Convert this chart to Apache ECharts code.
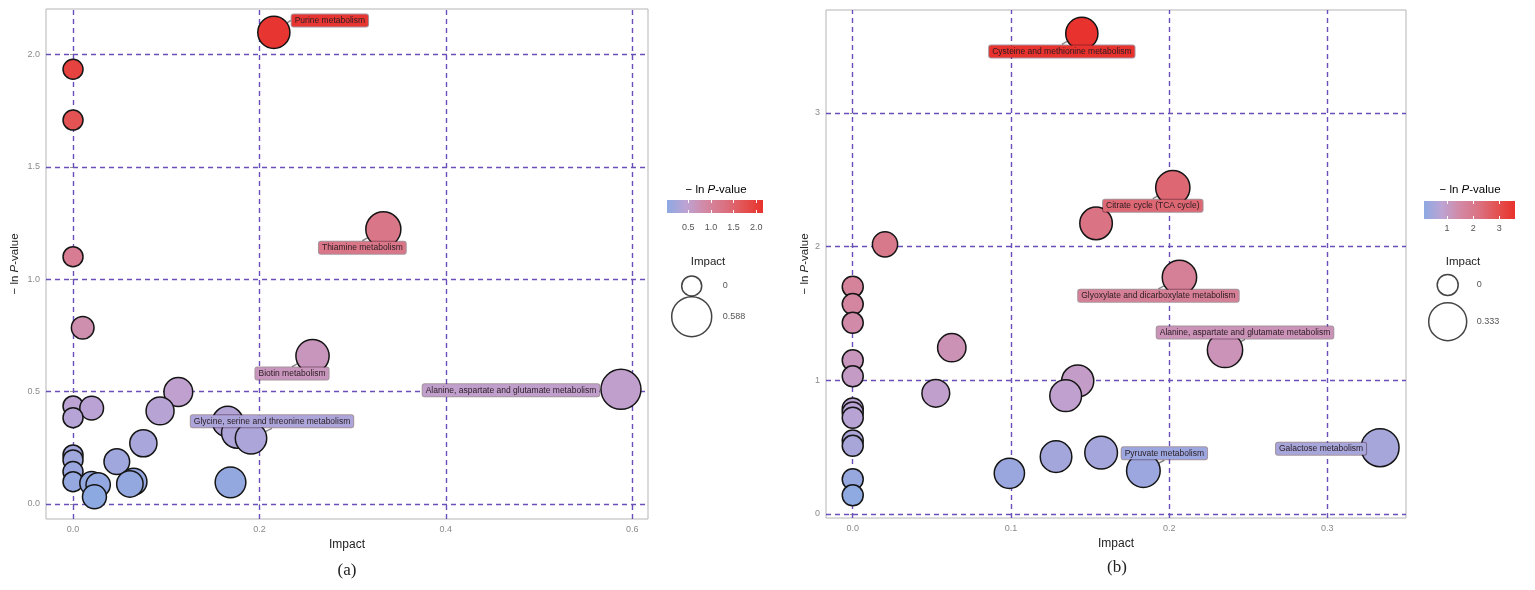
<!DOCTYPE html>
<html><head><meta charset="utf-8">
<script src="https://cdn.jsdelivr.net/npm/echarts@6/dist/echarts.min.js"></script>
<style>html,body{margin:0;padding:0;background:#fff}#c{width:1535px;height:590px}</style>
</head><body><div id="c"></div>
<script>
// ---------- Panel (a) data ----------
const leftImpact = [0.2155, 0, 0, 0.333, 0, 0.0104, 0.257, 0.588, 0.113, 0, 0.020, 0.0934, 0, 0.166, 0.176, 0.191, 0.0755, 0, 0, 0.047, 0, 0, 0.020, 0.027, 0.023, 0.065, 0.061, 0.169];
const leftLogP   = [2.098, 1.934, 1.708, 1.222, 1.100, 0.784, 0.658, 0.510, 0.498, 0.436, 0.426, 0.414, 0.384, 0.366, 0.317, 0.292, 0.270, 0.218, 0.196, 0.188, 0.144, 0.099, 0.092, 0.085, 0.032, 0.099, 0.089, 0.096];
const leftNames  = ['Purine metabolism', '', '', 'Thiamine metabolism', '', '', 'Biotin metabolism', 'Alanine, aspartate and glutamate metabolism', '', '', '', '', '', '', '', 'Glycine, serine and threonine metabolism', '', '', '', '', '', '', '', '', '', '', '', ''];
const leftXTicks = [0, 0.2, 0.4, 0.6];
const leftYTicks = [0, 0.5, 1.0, 1.5, 2.0];
const leftColorTicks = [0.5, 1.0, 1.5, 2.0];
const leftSizeLegend = [0, 0.588];

// ---------- Panel (b) data ----------
const rightImpact = [0.1448, 0.2023, 0.1538, 0.0204, 0.2065, 0, 0, 0, 0.0626, 0.2353, 0, 0, 0.1422, 0.0525, 0.1346, 0, 0, 0, 0, 0, 0.3333, 0.157, 0.1285, 0.1837, 0.099, 0, 0];
const rightLogP   = [3.595, 2.441, 2.174, 2.017, 1.770, 1.700, 1.570, 1.430, 1.244, 1.227, 1.150, 1.030, 0.995, 0.903, 0.885, 0.790, 0.760, 0.720, 0.550, 0.510, 0.496, 0.459, 0.429, 0.324, 0.304, 0.260, 0.140];
const rightNames  = ['Cysteine and methionine metabolism', 'Citrate cycle (TCA cycle)', '', '', 'Glyoxylate and dicarboxylate metabolism', '', '', '', '', 'Alanine, aspartate and glutamate metabolism', '', '', '', '', '', '', '', '', '', '', 'Galactose metabolism', '', '', 'Pyruvate metabolism', '', '', ''];
const rightXTicks = [0, 0.1, 0.2, 0.3];
const rightYTicks = [0, 1, 2, 3];
const rightColorTicks = [1, 2, 3];
const rightSizeLegend = [0, 0.333];

// ---------- styling ----------
const FONT = 'Liberation Sans, Arial, sans-serif';
const colorStops = ['#8DA9E2', '#BDA3D3', '#D388A4', '#DA7282', '#E35252', '#E8322D'];
const gridColor = '#6A4FB8';
const leftLabelOffsets = {
  'Purine metabolism': [56, -12],
  'Thiamine metabolism': [-21, 18.5],
  'Biotin metabolism': [-20.5, 17.5],
  'Glycine, serine and threonine metabolism': [21, -17],
  'Alanine, aspartate and glutamate metabolism': [-110, 1]
};
const rightLabelOffsets = {
  'Cysteine and methionine metabolism': [-20, 18],
  'Citrate cycle (TCA cycle)': [-20, 18],
  'Glyoxylate and dicarboxylate metabolism': [-21, 18.5],
  'Alanine, aspartate and glutamate metabolism': [20, -17.5],
  'Pyruvate metabolism': [21, -17.4],
  'Galactose metabolism': [-59, 1]
};

function sizeFn(maxI, dmin, dmax) {
  return function (val) { return dmin + (dmax - dmin) * Math.sqrt(Math.max(0, val[0]) / maxI); };
}
function buildData(xs, ys, names) {
  return xs.map((x, i) => ({ value: [x, ys[i]], name: names[i] }));
}
function gradient() {
  return new echarts.graphic.LinearGradient(0, 0, 1, 0,
    colorStops.map((c, i) => ({ offset: i / (colorStops.length - 1), color: c })));
}

const chart = echarts.init(document.getElementById('c'), null, { renderer: 'canvas' });

const tickLabel = { color: '#8a8a8a', fontSize: 9, fontFamily: FONT };
const yName = '{a|\u2212 ln }{b|P}{a|-value}';
const yNameStyle = { rich: { a: { fontSize: 11.5, color: '#222', fontFamily: FONT }, b: { fontSize: 11.5, color: '#222', fontStyle: 'italic', fontFamily: FONT } } };

function mainX(gi, min, max, ticks, gap) {
  return {
    gridIndex: gi, type: 'value', min: min, max: max,
    splitLine: { show: false }, axisLine: { show: false },
    axisTick: { show: true, customValues: ticks, length: 3, lineStyle: { color: '#9a9a9a' } },
    axisLabel: { customValues: ticks, formatter: v => (+v).toFixed(1), margin: 6, ...tickLabel },
    name: 'Impact', nameLocation: 'middle', nameGap: gap,
    nameTextStyle: { fontSize: 12, color: '#222', fontFamily: FONT }
  };
}
function mainY(gi, min, max, ticks, fmt, gap) {
  return {
    gridIndex: gi, type: 'value', min: min, max: max,
    splitLine: { show: false }, axisLine: { show: false },
    axisTick: { show: true, customValues: ticks, length: 3, lineStyle: { color: '#9a9a9a' } },
    axisLabel: { customValues: ticks, formatter: fmt, margin: 6, ...tickLabel },
    name: yName, nameLocation: 'middle', nameRotate: 90, nameGap: gap, nameTextStyle: yNameStyle
  };
}
function gridLines(xi, yi, xt, yt) {
  return {
    type: 'scatter', xAxisIndex: xi, yAxisIndex: yi, data: [], z: 1, silent: true,
    markLine: {
      z: 1, silent: true, symbol: ['none', 'none'], label: { show: false },
      lineStyle: { color: gridColor, type: [5, 4], width: 1.4 },
      data: xt.map(v => ({ xAxis: v })).concat(yt.map(v => ({ yAxis: v })))
    }
  };
}
// unlabelled points
function dataSeries(xi, yi, data, maxI, dmin, dmax) {
  return {
    type: 'scatter', xAxisIndex: xi, yAxisIndex: yi, z: 3,
    data: data.filter(d => !d.name),
    symbolSize: sizeFn(maxI, dmin, dmax),
    itemStyle: { borderColor: '#151515', borderWidth: 1.5, opacity: 1 },
    label: { show: false }
  };
}
// labelled points, drawn above with their repelled labels
function labelSeries(xi, yi, data, maxI, dmin, dmax, offsets) {
  const named = data.filter(d => d.name);
  return {
    type: 'scatter', xAxisIndex: xi, yAxisIndex: yi, z: 4,
    data: named,
    symbolSize: sizeFn(maxI, dmin, dmax),
    itemStyle: { borderColor: '#151515', borderWidth: 1.5, opacity: 1 },
    label: {
      show: true, position: 'inside', formatter: p => p.name,
      fontSize: 8.5, fontFamily: FONT, color: '#2a1c22',
      backgroundColor: 'auto', borderColor: 'rgba(60,20,40,0.45)', borderWidth: 1,
      borderRadius: 2, padding: [2, 3, 1, 3]
    },
    labelLine: { show: true, lineStyle: { color: '#8a8a8a', width: 1.5 } },
    labelLayout: function (p) {
      const o = offsets[named[p.dataIndex].name];
      if (!o) return {};
      return { dx: o[0], dy: o[1] };
    }
  };
}
function colorbarAxes(gi, min, max, ticks, fmt, margin) {
  return [{
    gridIndex: gi, type: 'value', min: min, max: max, position: 'bottom',
    splitLine: { show: false }, axisLine: { show: false },
    axisTick: { show: true, inside: true, customValues: ticks, length: 3, lineStyle: { color: '#fff', width: 1 } },
    axisLabel: { customValues: ticks, formatter: fmt, margin: margin, color: '#555', fontSize: 9, fontFamily: FONT }
  }, {
    gridIndex: gi, type: 'value', min: min, max: max, position: 'top',
    splitLine: { show: false }, axisLine: { show: false },
    axisTick: { show: true, inside: true, customValues: ticks, length: 3, lineStyle: { color: '#fff', width: 1 } },
    axisLabel: { show: false }
  }];
}

const grids = [
  { left: 46, top: 9, width: 602, height: 510, show: true, borderColor: '#b5b5b5', borderWidth: 1, backgroundColor: '#fff' },   // 0 main a
  { left: 826, top: 10, width: 580, height: 508, show: true, borderColor: '#b5b5b5', borderWidth: 1, backgroundColor: '#fff' }, // 1 main b
  { left: 667, top: 200, width: 96, height: 13, show: true, borderWidth: 0, backgroundColor: gradient() },   // 2 colorbar a
  { left: 1424, top: 201, width: 91, height: 18, show: true, borderWidth: 0, backgroundColor: gradient() },  // 3 colorbar b
  { left: 671.7, top: 270.6, width: 40, height: 61.4 },   // 4 size legend a
  { left: 1427.7, top: 266.6, width: 40, height: 73.4 }   // 5 size legend b
];

const cbA = colorbarAxes(2, 0.03, 2.15, leftColorTicks, v => (+v).toFixed(1), 10);
const cbB = colorbarAxes(3, 0.115, 3.6, rightColorTicks, v => String(Math.round(v)), 5);

const xAxes = [
  mainX(0, -0.029, 0.617, leftXTicks, 15),           // 0
  mainX(1, -0.0169, 0.3497, rightXTicks, 15),        // 1
  cbA[0], cbA[1],                                     // 2,3
  cbB[0], cbB[1],                                     // 4,5
  { gridIndex: 4, type: 'value', min: -1, max: 1, show: false },  // 6
  { gridIndex: 5, type: 'value', min: -1, max: 1, show: false }   // 7
];
const yAxes = [
  mainY(0, -0.067, 2.202, leftYTicks, v => (+v).toFixed(1), 25),  // 0
  mainY(1, -0.030, 3.770, rightYTicks, v => String(Math.round(v)), 15), // 1
  { gridIndex: 2, type: 'value', min: 0, max: 1, show: false },   // 2
  { gridIndex: 3, type: 'value', min: 0, max: 1, show: false },   // 3
  { gridIndex: 4, type: 'category', inverse: true, position: 'right', data: leftSizeLegend.map(String),
    axisLine: { show: false }, axisTick: { show: false },
    axisLabel: { margin: 11, color: '#555', fontSize: 9, fontFamily: FONT } },      // 4
  { gridIndex: 5, type: 'category', inverse: true, position: 'right', data: rightSizeLegend.map(String),
    axisLine: { show: false }, axisTick: { show: false },
    axisLabel: { margin: 9, color: '#555', fontSize: 9, fontFamily: FONT } }       // 5
];

const leftData = buildData(leftImpact, leftLogP, leftNames);
const rightData = buildData(rightImpact, rightLogP, rightNames);
const leftMax = Math.max(...leftImpact), rightMax = Math.max(...rightImpact);

function sizeLegendSeries(xi, yi, vals, maxI, dmin, dmax) {
  return {
    type: 'scatter', xAxisIndex: xi, yAxisIndex: yi, silent: true,
    data: vals.map((v, i) => [0, i, v]),
    symbolSize: (val) => dmin + (dmax - dmin) * Math.sqrt(val[2] / maxI),
    itemStyle: { color: '#fff', borderColor: '#151515', borderWidth: 1.5 }
  };
}

const series = [
  gridLines(0, 0, leftXTicks, leftYTicks),                                 // 0
  dataSeries(0, 0, leftData, leftMax, 20, 40),                             // 1
  gridLines(1, 1, rightXTicks, rightYTicks),                               // 2
  dataSeries(1, 1, rightData, rightMax, 21, 38),                           // 3
  sizeLegendSeries(6, 4, leftSizeLegend, leftMax, 20, 40),                 // 4
  sizeLegendSeries(7, 5, rightSizeLegend, rightMax, 21, 38),               // 5
  labelSeries(0, 0, leftData, leftMax, 20, 40, leftLabelOffsets),          // 6
  labelSeries(1, 1, rightData, rightMax, 21, 38, rightLabelOffsets)        // 7
];

function legendTitle(x, y) {
  return { type: 'text', x: x, y: y, style: { text: yName, rich: yNameStyle.rich, align: 'center', verticalAlign: 'middle' } };
}
function plainText(x, y, t, size, family) {
  return { type: 'text', x: x, y: y, style: { text: t, fontSize: size, fontFamily: family || FONT, fill: '#222', align: 'center', verticalAlign: 'middle' } };
}

chart.setOption({
  animation: false,
  backgroundColor: '#fff',
  grid: grids,
  xAxis: xAxes,
  yAxis: yAxes,
  visualMap: [
    { type: 'continuous', show: false, seriesIndex: [1, 6], dimension: 1, min: 0.03, max: 2.15, inRange: { color: colorStops } },
    { type: 'continuous', show: false, seriesIndex: [3, 7], dimension: 1, min: 0.115, max: 3.6, inRange: { color: colorStops } }
  ],
  series: series,
  graphic: [
    legendTitle(716, 190),
    legendTitle(1470, 190),
    plainText(708, 262, 'Impact', 11.5),
    plainText(1463, 262, 'Impact', 11.5),
    plainText(347, 571, '(a)', 17, 'Liberation Serif, Times New Roman, serif'),
    plainText(1117, 568, '(b)', 17, 'Liberation Serif, Times New Roman, serif')
  ]
});
</script>
</body></html>
